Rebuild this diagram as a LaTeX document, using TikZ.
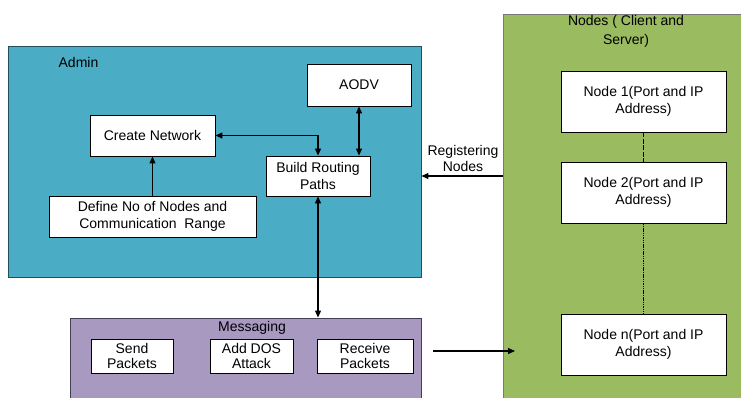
\documentclass[tikz,border=0pt]{standalone}
\usepackage{fontspec}
\setmainfont{Liberation Sans}
\usetikzlibrary{arrows.meta}
\definecolor{adminfill}{RGB}{75,172,198}
\definecolor{adminline}{RGB}{33,80,95}
\definecolor{greenfill}{RGB}{155,187,96}
\definecolor{greenline}{RGB}{120,120,120}
\definecolor{purplefill}{RGB}{168,153,193}
\definecolor{purpleline}{RGB}{70,60,85}
\tikzset{
  txt/.style={font=\fontsize{14}{16.8}\selectfont, align=center, inner sep=0pt},
  whitebox/.style={txt, draw=black, line width=0.8pt, fill=white},
  smallbox/.style={whitebox, font=\fontsize{14}{14.5}\selectfont},
  panel/.style={draw, line width=0.9pt, inner sep=0pt},
  conn/.style={line width=1.1pt, draw=black},
  tip/.tip={Triangle[length=7pt,width=6pt]}
}
\begin{document}
\begin{tikzpicture}[x=1pt,y=-1pt]
\useasboundingbox (0,0) rectangle (741,397);
\clip (0,0) rectangle (741,397);
% panels
\node[panel, fill=adminfill, draw=adminline, minimum width=413pt, minimum height=231pt] (admin) at (214.5,161.5) {};
\node[panel, fill=purplefill, draw=purpleline, minimum width=351pt, minimum height=90pt] (msg) at (245.5,363) {};
\node[panel, fill=greenfill, draw=greenline, minimum width=245pt, minimum height=394pt] (green) at (625.5,211) {};
% labels
\node[txt] (adminlbl) at (78.5,62.5) {Admin};
\node[txt] (msglbl) at (252,328) {Messaging};
\node[txt, font=\fontsize{14}{19}\selectfont] (greenlbl) at (626,31.5) {Nodes ( Client and\\Server)};
\node[txt] (reglbl) at (463,158.5) {Registering\\Nodes};
% admin boxes
\node[whitebox, minimum width=104pt, minimum height=42pt] (aodv) at (359,85) {AODV};
\node[whitebox, minimum width=125pt, minimum height=41pt] (create) at (152.5,135.5) {Create Network};
\node[whitebox, minimum width=104pt, minimum height=40pt] (build) at (318,176) {Build Routing\\Paths};
\node[whitebox, minimum width=207pt, minimum height=41pt] (define) at (152.5,216.5) {Define No of Nodes and\\Communication~ Range};
% node boxes
\node[whitebox, minimum width=165pt, minimum height=61pt] (n1) at (643.5,101.5) {Node 1(Port and IP\\Address)};
\node[whitebox, minimum width=165pt, minimum height=61pt] (n2) at (643.5,192.5) {Node 2(Port and IP\\Address)};
\node[whitebox, minimum width=165pt, minimum height=61pt] (nn) at (643.5,344.5) {Node n(Port and IP\\Address)};
% messaging boxes
\node[smallbox, minimum width=82pt, minimum height=34pt] (send) at (132,356) {Send\\Packets};
\node[smallbox, minimum width=83pt, minimum height=34pt] (dos) at (251.5,356) {Add DOS\\Attack};
\node[smallbox, minimum width=96pt, minimum height=34pt] (recv) at (365,356) {Receive\\Packets};
% connectors
\draw[conn, -tip] (define.north) -- (create.south);
\draw[conn, tip-tip] (create.east) -| (build.north);
\draw[conn, tip-tip] (aodv.south) -- (aodv.south |- build.north);
\draw[conn, tip-tip] (build.south) -- (build.south |- msg.north);
\draw[conn, -tip] (green.west |- build) -- (admin.east |- build);
\draw[line width=1.6pt, dash pattern=on 5pt off 1.5pt] (n1.south) -- (n2.north);
\draw[line width=1.6pt, dash pattern=on 1.5pt off 0.8pt] (n2.south) -- (nn.north);
\coordinate (mstart) at (433,351);
\coordinate (mend) at (515,351);
\draw[conn, -tip] (mstart) -- (mend);
\end{tikzpicture}
\end{document}
